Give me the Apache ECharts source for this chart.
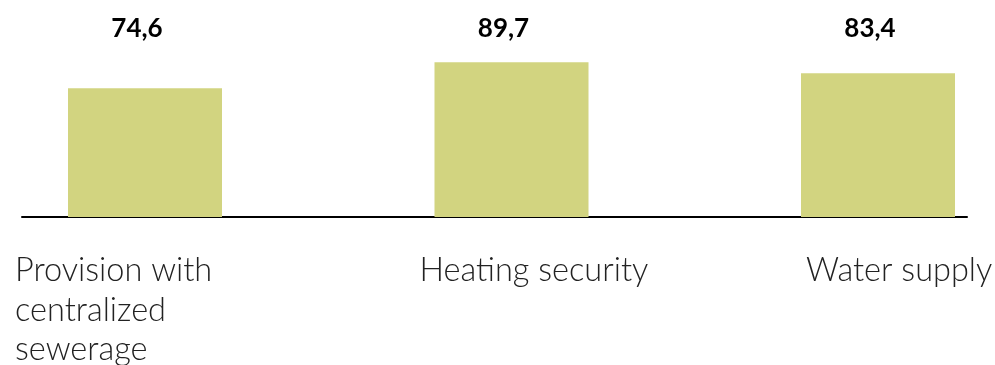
<!DOCTYPE html>
<html>
<head>
<meta charset="utf-8">
<script src="https://cdn.jsdelivr.net/npm/echarts@6/dist/echarts.min.js"></script>
<style>
html,body{margin:0;padding:0;background:#fff;}
#chart{width:995px;height:365px;}
</style>
</head>
<body>
<div id="chart"></div>
<script>
var categories = ['Provision with\ncentralized\nsewerage', 'Heating security', 'Water supply'];
var values = [74.6, 89.7, 83.4];
var labelShift = [-130, -92, -72];   // left edge of each category label vs. bar centre

var chart = echarts.init(document.getElementById('chart'));

var catData = categories.map(function (c, i) {
	return {
		value: c,
		textStyle: { align: 'left', padding: [0, 0, 0, labelShift[i]] }
	};
});
var valueLabels = values.map(function (v) {
	return v.toFixed(1).replace('.', ',');
});

var option = {
	animation: false,
	grid: [
		{ left: 145, right: 117, top: 44.5, bottom: 148, outerBoundsMode: 'none' },   // bars
		{ left: 22, right: 28, top: 44.5, bottom: 148, outerBoundsMode: 'none' }      // baseline
	],
	xAxis: [{
		gridIndex: 0,
		type: 'category',
		boundaryGap: false,
		data: catData,
		axisLine: { show: false },
		axisTick: { show: false },
		axisLabel: {
			interval: 0,
			margin: 34,
			fontFamily: 'Lato',
			fontWeight: 300,
			fontSize: 32.5,
			lineHeight: 39.5,
			color: '#222'
		}
	}, {
		gridIndex: 0,
		type: 'category',
		position: 'top',
		boundaryGap: false,
		data: valueLabels,
		axisLine: { show: false },
		axisTick: { show: false },
		axisLabel: {
			interval: 0,
			margin: 3,
			fontFamily: 'Lato',
			fontWeight: 'bold',
			fontSize: 26,
			color: '#000',
			padding: [0, 16, 0, 0]
		}
	}, {
		gridIndex: 1,
		type: 'value',
		min: 0,
		max: 1,
		axisLine: { show: true, lineStyle: { color: '#000', width: 2 } },
		axisTick: { show: false },
		axisLabel: { show: false },
		splitLine: { show: false }
	}],
	yAxis: [{
		gridIndex: 0,
		type: 'value',
		min: 0,
		max: 100,
		show: false
	}, {
		gridIndex: 1,
		type: 'value',
		min: 0,
		max: 1,
		show: false
	}],
	series: [{
		type: 'bar',
		xAxisIndex: 0,
		yAxisIndex: 0,
		data: values,
		barWidth: 154,
		clip: false,
		itemStyle: { color: '#d2d480' }
	}]
};
chart.setOption(option);
</script>
</body>
</html>
